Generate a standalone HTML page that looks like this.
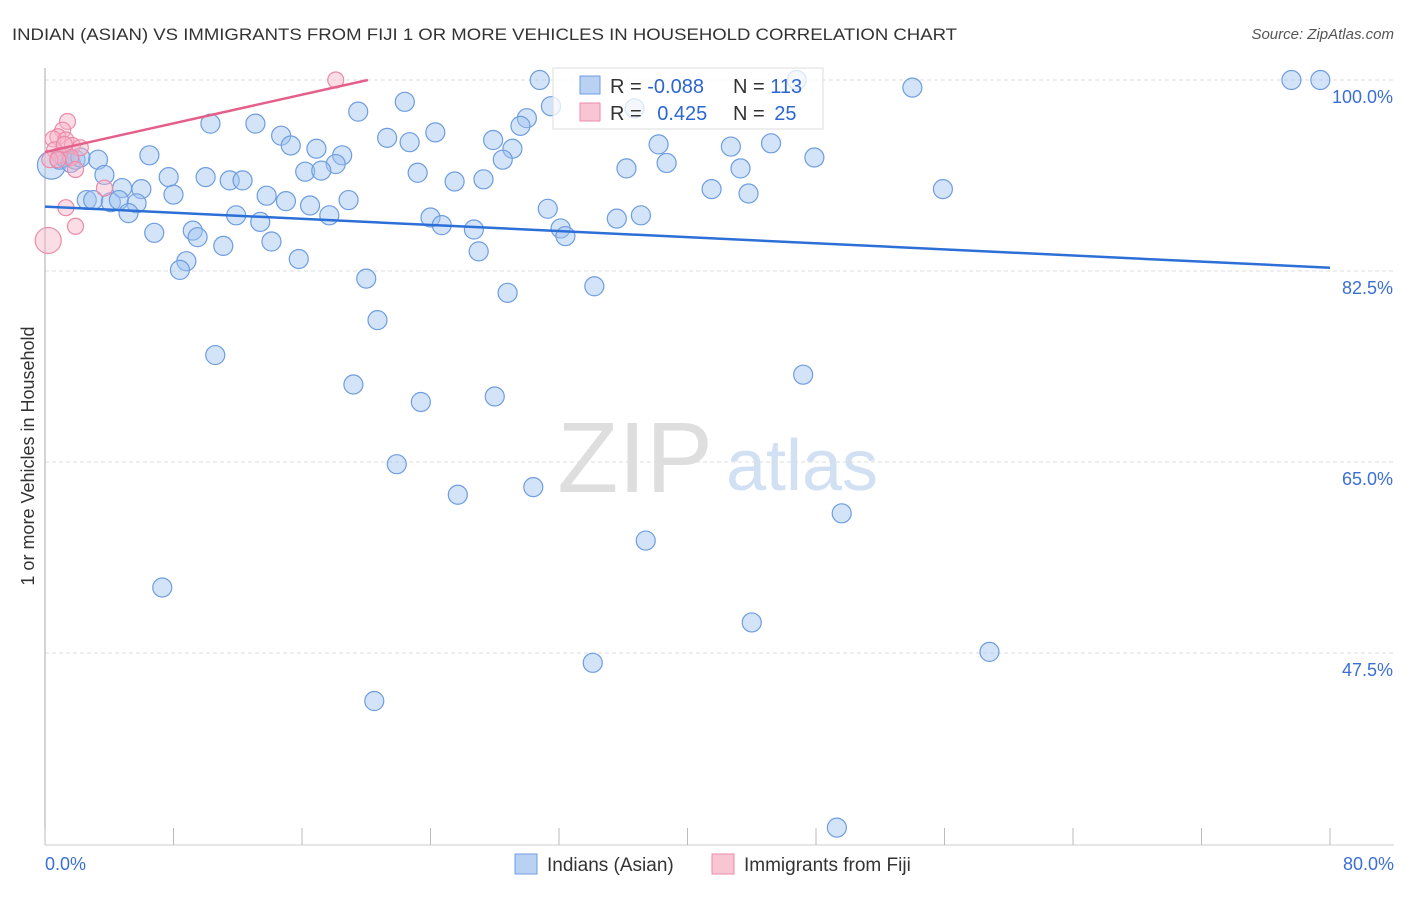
<!DOCTYPE html>
<html><head><meta charset="utf-8">
<style>
body{margin:0;background:#fff;font-family:"Liberation Sans",sans-serif;}
svg text{font-family:"Liberation Sans",sans-serif;}
</style></head>
<body>
<svg width="1406" height="892" viewBox="0 0 1406 892">
<text x="12" y="40" font-size="17" fill="#333" textLength="945" lengthAdjust="spacingAndGlyphs">INDIAN (ASIAN) VS IMMIGRANTS FROM FIJI 1 OR MORE VEHICLES IN HOUSEHOLD CORRELATION CHART</text>
<text x="1394" y="39" font-size="15" fill="#555" font-style="italic" text-anchor="end">Source: ZipAtlas.com</text>
<text x="635" y="492" font-size="100" fill="#dedede" font-family="Liberation Serif" text-anchor="middle">ZIP</text>
<text x="802" y="490" font-size="72" fill="#d2e0f4" text-anchor="middle">atlas</text>
<g id="grid"></g>
<line x1="45" y1="68" x2="45" y2="845" stroke="#aaa"/>
<line x1="45" y1="845" x2="1394" y2="845" stroke="#ccc"/>
<g id="ticks"></g>
<text transform="translate(34,456) rotate(-90)" font-size="18" fill="#333" text-anchor="middle">1 or more Vehicles in Household</text>
<text x="45" y="870" font-size="18" fill="#3b6fd4">0.0%</text>
<text x="1394" y="870" font-size="18" fill="#3b6fd4" text-anchor="end">80.0%</text>
<g id="pts"></g>
<g id="lines"></g>
<g>
<rect x="553" y="68" width="270" height="61" fill="rgba(255,255,255,0.75)" stroke="#ddd"/>
<rect x="580" y="76" width="20" height="18" fill="#b9d1f3" stroke="#6d9de0"/>
<rect x="580" y="103" width="20" height="18" fill="#f8c5d3" stroke="#ec8aa8"/>
<text x="610" y="93" font-size="20" fill="#333">R = <tspan fill="#2c66d0">-0.088</tspan></text>
<text x="733" y="93" font-size="20" fill="#333">N = <tspan fill="#2c66d0">113</tspan></text>
<text x="610" y="120" font-size="20" fill="#333">R = <tspan fill="#2c66d0" dx="10">0.425</tspan></text>
<text x="733" y="120" font-size="20" fill="#333">N = <tspan fill="#2c66d0" dx="4">25</tspan></text>
</g>
<g>
<rect x="515" y="854" width="22" height="20" fill="#b9d1f3" stroke="#6d9de0"/>
<text x="547" y="871" font-size="19" fill="#333">Indians (Asian)</text>
<rect x="712" y="854" width="22" height="20" fill="#f8c5d3" stroke="#ec8aa8"/>
<text x="744" y="871" font-size="19" fill="#333">Immigrants from Fiji</text>
</g>
</svg>
<script>
const blueX=[30.8,46.8,77.6,79.4,54.0,22.4,31.5,36.7,19.5,30.0,10.3,13.1,29.6,14.7,24.3,21.3,22.7,27.9,15.3,38.2,45.2,42.7,16.9,6.5,18.5,29.1,28.5,47.9,18.1,3.3,38.7,36.2,43.3,16.2,17.2,23.2,7.7,10.0,11.5,12.3,27.3,25.5,3.7,4.8,6.0,41.5,55.9,43.8,8.0,13.8,2.6,3.0,4.1,4.6,5.7,15.0,16.5,18.9,31.3,5.2,11.9,17.7,24.0,35.6,37.1,13.4,24.7,26.7,32.1,32.4,6.8,9.2,9.5,14.1,11.1,27.0,8.8,15.8,8.4,20.0,28.8,34.2,20.7,10.6,47.2,19.2,28.0,23.4,21.9,30.4,25.7,49.6,37.4,7.3,44.0,58.8,34.1,20.5,49.3,0.4,0.9,1.2,1.6,1.9,2.2];
const blueY=[100,100,100,100,99.3,98.0,97.6,97.4,97.1,96.5,96.0,96.0,95.8,94.9,95.2,94.7,94.3,94.5,94.0,94.1,94.2,93.9,93.7,93.1,93.1,93.7,92.7,92.9,92.3,92.7,92.4,91.9,91.9,91.6,91.7,91.5,91.1,91.1,90.8,90.8,90.9,90.7,91.3,90.1,90.0,90.0,90.0,89.6,89.5,89.4,89.0,89.0,88.8,89.0,88.7,88.9,88.5,89.0,88.2,87.8,87.6,87.6,87.4,87.3,87.6,87.0,86.7,86.3,86.4,85.7,86.0,86.2,85.6,85.2,84.8,84.3,83.4,83.6,82.6,81.8,80.5,81.1,78.0,74.8,73.0,72.1,71.0,70.5,64.8,62.7,62.0,60.3,57.8,53.5,50.3,47.6,46.6,43.1,31.5,92.2,92.7,92.9,92.4,92.7,92.9];
const blueBig=[99];
const pinkX=[18.1,1.4,1.1,0.8,0.5,1.3,0.6,1.7,2.2,0.9,1.6,1.9,3.7,1.3,1.9,0.2,1.2,0.3,0.8];
const pinkY=[100,96.2,95.4,94.8,94.6,94.5,93.6,94.0,93.8,93.1,92.9,91.8,90.1,88.3,86.6,85.3,94.1,92.7,92.7];
const pinkBig=[15];
const yTicks=[100,82.5,65,47.5];
const yTickLabels=["100.0%","82.5%","65.0%","47.5%"];
const xTicks=[0,8,16,24,32,40,48,56,64,72,80];
const blueTrend=[88.4,82.8];
const pinkTrend=[93.4,100];
const pinkTrendEnd=20.1;

const NS="http://www.w3.org/2000/svg";
function sx(v){return 45+v/80*1285;}
function sy(v){return 80+(100-v)/17.5*191;}
function mk(tag,attrs,parent){const e=document.createElementNS(NS,tag);for(const k in attrs)e.setAttribute(k,attrs[k]);parent.appendChild(e);return e;}
const grid=document.getElementById('grid');
yTicks.forEach((t,i)=>{
  const l=mk('line',{x1:45,x2:1394,y1:sy(t),y2:sy(t),stroke:'#ddd','stroke-dasharray':'4,3'},grid);
  
  
  const tx=mk('text',{x:1393,y:sy(t)+23,'font-size':18,fill:'#3b6fd4','text-anchor':'end'},grid);
  tx.textContent=yTickLabels[i];
  
  
});
const ticks=document.getElementById('ticks');
xTicks.forEach(t=>{
  const l=mk('line',{x1:sx(t),x2:sx(t),y1:828,y2:845,stroke:'#bbb'},ticks);
  
  
});
const pts=document.getElementById('pts');
blueX.forEach((x,i)=>{
  const c=mk('circle',{cx:sx(x),cy:sy(blueY[i]),r:blueBig.includes(i)?14:9.5,fill:'rgba(160,195,240,0.45)',stroke:'#6d9de0','stroke-width':1.2},pts);
  
  
});
pinkX.forEach((x,i)=>{
  const c=mk('circle',{cx:sx(x),cy:sy(pinkY[i]),r:pinkBig.includes(i)?13:8,fill:'rgba(246,180,200,0.45)',stroke:'#ec8aa8','stroke-width':1.2},pts);
  
  
});
const lines=document.getElementById('lines');
const bl=mk('line',{x1:sx(0),y1:sy(blueTrend[0]),x2:sx(80),y2:sy(blueTrend[1]),stroke:'#2c6fd6','stroke-width':2.5},lines);


const pl=mk('line',{x1:sx(0),y1:sy(pinkTrend[0]),x2:sx(pinkTrendEnd),y2:sy(pinkTrend[1]),stroke:'#e4608a','stroke-width':2.5},lines);


</script>
</body></html>
